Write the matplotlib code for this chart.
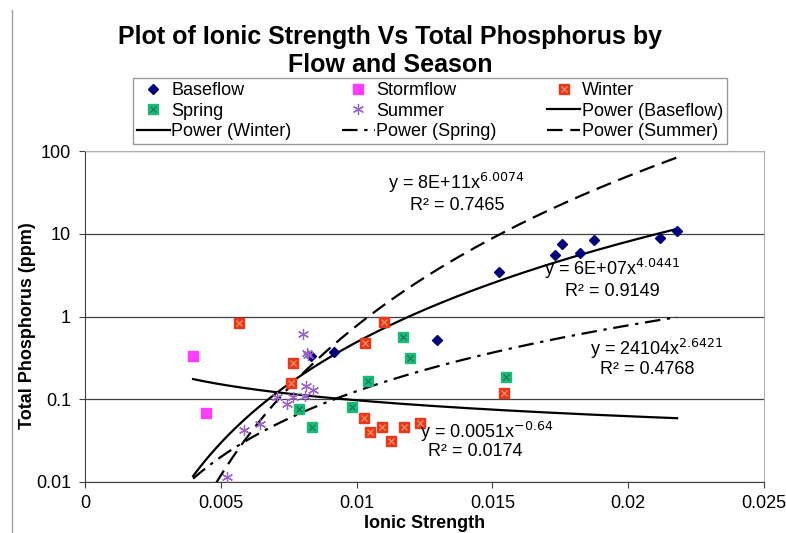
import matplotlib
matplotlib.use("Agg")
import matplotlib.pyplot as plt
import matplotlib.lines as mlines
from matplotlib.legend_handler import HandlerTuple
import numpy as np

plt.rcParams['font.family'] = ['Liberation Sans', 'DejaVu Sans']

# data (ionic strength, total phosphorus in ppm)
base_x = [0.00832, 0.00917, 0.01296, 0.01524, 0.01730, 0.01756, 0.01823, 0.01874, 0.02117, 0.02180]
base_y = [0.332, 0.371, 0.519, 3.44, 5.53, 7.5, 5.84, 8.39, 8.87, 10.8]

storm_x = [0.00398, 0.00445]
storm_y = [0.332, 0.068]

winter_x = [0.00567, 0.00766, 0.00758, 0.01031, 0.01101, 0.01027, 0.01049, 0.01094, 0.01127, 0.01175, 0.01233, 0.01543]
winter_y = [0.83, 0.274, 0.157, 0.477, 0.855, 0.059, 0.040, 0.046, 0.031, 0.046, 0.051, 0.119]

spring_x = [0.01171, 0.01197, 0.01042, 0.00788, 0.00836, 0.00983, 0.0155]
spring_y = [0.563, 0.314, 0.166, 0.076, 0.046, 0.080, 0.185]

summer_x = [0.00803, 0.00817, 0.00822, 0.00814, 0.00840, 0.00810, 0.00766, 0.00707, 0.00744, 0.00644, 0.00585, 0.00523]
summer_y = [0.61, 0.36, 0.34, 0.144, 0.129, 0.109, 0.106, 0.106, 0.087, 0.050, 0.042, 0.0114]

# power trendlines y = a * x^b, as printed on the chart
fit_names = ['Baseflow', 'Winter', 'Spring', 'Summer']
fit_a = [6e7, 0.0051, 24104, 8e11]
fit_b = [4.0441, -0.64, 2.6421, 6.0074]
fit_r2 = ['0.9149', '0.0174', '0.4768', '0.7465']
fit_eq = ['y = 6E+07x$^{4.0441}$', 'y = 0.0051x$^{-0.64}$', 'y = 24104x$^{2.6421}$', 'y = 8E+11x$^{6.0074}$']

fig = plt.figure(figsize=(7.86, 5.33), dpi=100)
ax = fig.add_axes([85/786, 1-482/533, (764-85)/786, (482-151)/533])

winter_c = '#E83A1A'
spring_c = '#1DB87A'

h_base, = ax.plot(base_x, base_y, 'D', color='#00007F', ms=5.5, ls='none', zorder=5)
h_storm, = ax.plot(storm_x, storm_y, 's', color='#FF3CFF', ms=7, ls='none', zorder=5)
h_w1, = ax.plot(winter_x, winter_y, 's', color=winter_c, ms=7, ls='none', zorder=5)
h_w2, = ax.plot(winter_x, winter_y, 'x', color='#F59A6A', ms=5, mew=0.8, ls='none', zorder=6)
h_s1, = ax.plot(spring_x, spring_y, 's', color=spring_c, ms=7, ls='none', zorder=5)
h_s2, = ax.plot(spring_x, spring_y, 'x', color='#0E7A4E', ms=5, mew=0.8, ls='none', zorder=6)
h_sum, = ax.plot(summer_x, summer_y, marker=(6, 2, 0), color='#9A62C8', ms=8, mew=0.9, ls='none', zorder=5)

all_x = base_x + storm_x + winter_x + spring_x + summer_x
xx = np.linspace(min(all_x), max(all_x), 400)
styles = {
    'Baseflow': dict(ls='-'),
    'Winter': dict(ls='-'),
    'Spring': dict(ls=(0, (7, 3, 1.5, 3))),
    'Summer': dict(ls=(0, (7, 3.5))),
}
fit_handles = {}
for name, a, b in zip(fit_names, fit_a, fit_b):
    h, = ax.plot(xx, a * xx ** b, color='black', lw=1.6, zorder=4, **styles[name])
    fit_handles[name] = h

ax.set_yscale('log')
ax.set_xlim(0, 0.025)
ax.set_ylim(0.01, 100)
ax.set_xticks([0, 0.005, 0.01, 0.015, 0.02, 0.025])
ax.set_xticklabels(['0', '0.005', '0.01', '0.015', '0.02', '0.025'])
ax.set_yticks([0.01, 0.1, 1, 10, 100])
ax.set_yticklabels(['0.01', '0.1', '1', '10', '100'])
ax.minorticks_off()
ax.tick_params(axis='both', labelsize=13, direction='out', length=4, width=0.8, colors='#404040', labelcolor='black')
ax.tick_params(axis='x', pad=5)
ax.tick_params(axis='y', pad=6)
ax.yaxis.grid(True, color='#404040', lw=0.9)
ax.set_axisbelow(True)
ax.spines['top'].set_color('#B0B0B0')
ax.spines['right'].set_color('#B0B0B0')
ax.spines['left'].set_color('#404040')
ax.spines['bottom'].set_color('#404040')

# trendline labels
eq_pos = {'Summer': (456, 183), 'Baseflow': (612, 269), 'Spring': (657, 349), 'Winter': (487, 432)}
r2_pos = {'Summer': (457, 206), 'Baseflow': (612, 291), 'Spring': (647, 370), 'Winter': (475, 452)}
for name, eq, r2 in zip(fit_names, fit_eq, fit_r2):
    ex, ey = eq_pos[name]
    rx, ry = r2_pos[name]
    fig.text(ex/786, 1-ey/533, eq, ha='center', va='center', fontsize=13)
    fig.text(rx/786, 1-ry/533, 'R² = ' + r2, ha='center', va='center', fontsize=13)

fig.text(390/786, 1-37/533, 'Plot of Ionic Strength Vs Total Phosphorus by', ha='center', va='center',
         fontsize=18, fontweight='bold')
fig.text(390/786, 1-65/533, 'Flow and Season', ha='center', va='center', fontsize=18, fontweight='bold')
fig.text(28/786, 1-326/533, 'Total Phosphorus (ppm)', rotation=90, ha='center', va='center',
         fontsize=13, fontweight='bold')
fig.text(425/786, 1/533, 'Ionic Strength', ha='center', va='bottom', fontsize=13, fontweight='bold')

# legend, filled column by column so it reads row-wise like the original
handles = [h_base, (h_s1, h_s2), fit_handles['Winter'],
           h_storm, h_sum, fit_handles['Spring'],
           (h_w1, h_w2), fit_handles['Baseflow'], fit_handles['Summer']]
labels = ['Baseflow', 'Spring', 'Power (Winter)',
          'Stormflow', 'Summer', 'Power (Spring)',
          'Winter', 'Power (Baseflow)', 'Power (Summer)']
leg = fig.legend(handles, labels, ncol=3, loc='center', bbox_to_anchor=(430/786, 1-111/533),
                 fontsize=13, frameon=True, fancybox=False, edgecolor='#808080',
                 handlelength=1.8, handletextpad=0.1, columnspacing=2.8, labelspacing=0.2,
                 borderpad=0.2, borderaxespad=0,
                 handler_map={tuple: HandlerTuple(ndivide=1, pad=0)})
leg.get_frame().set_linewidth(1.0)

# chart area border on the left
fig.add_artist(mlines.Line2D([12/786, 12/786], [0, 1-10/533], color='#A0A0A0', lw=1))

fig.savefig('out.png', dpi=100)
